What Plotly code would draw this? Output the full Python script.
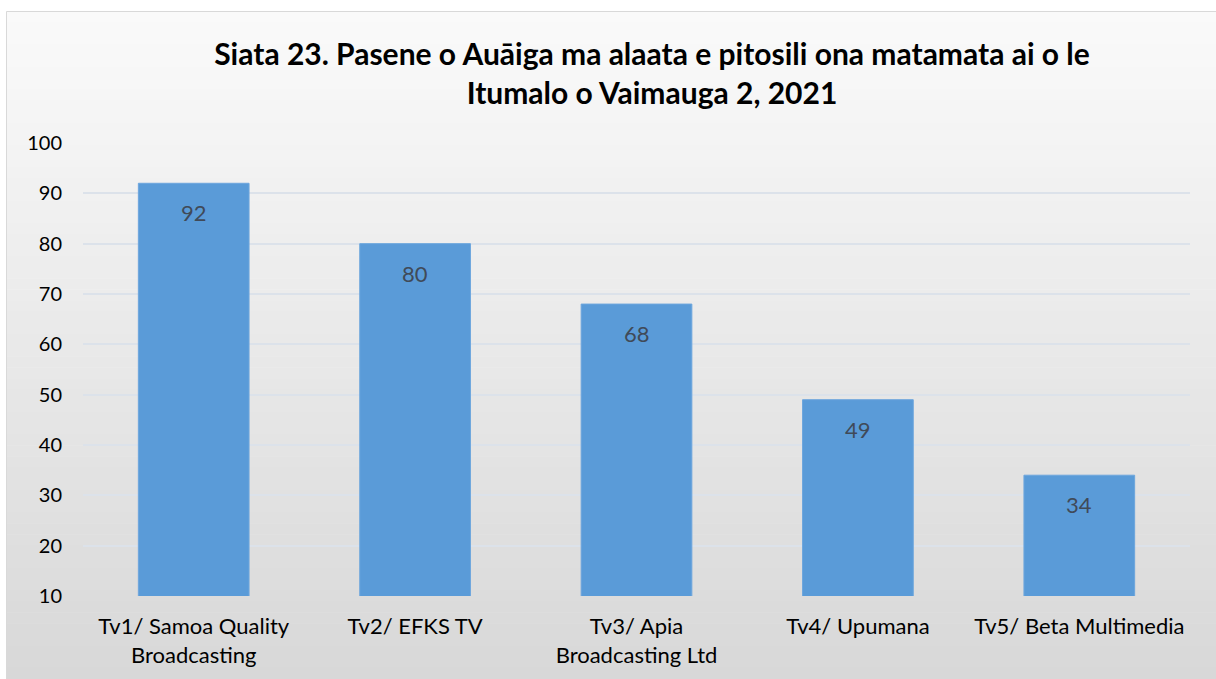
import plotly.graph_objects as go

# data
categories = [
    "Tv1/ Samoa Quality<br>Broadcasting",
    "Tv2/ EFKS TV",
    "Tv3/ Apia<br>Broadcasting Ltd",
    "Tv4/ Upumana",
    "Tv5/ Beta Multimedia",
]
values = [92, 80, 68, 49, 34]
y_ticks = [10, 20, 30, 40, 50, 60, 70, 80, 90, 100]

TITLE = "Siata 23. Pasene o Auāiga ma alaata e pitosili ona matamata ai o le<br>Itumalo o Vaimauga 2, 2021"
FONT = "Lato"

W, H = 1216, 679
L, R, T, B = 83, 26, 143, 83
pw, ph = W - L - R, H - T - B


def px_x(x):
    return (x - L) / pw


def px_y(y):
    return (H - B - y) / ph


# gradient background of the chart area (stripes)
shapes = []
n = 60
top, bot = 11, H
for i in range(n):
    y0 = top + (bot - top) * i / n
    y1 = top + (bot - top) * (i + 1) / n
    t = i / (n - 1)
    c = round(250 - (250 - 216) * t)
    shapes.append(dict(
        type="rect", xref="paper", yref="paper",
        x0=px_x(6), x1=px_x(W + 2), y0=px_y(y1 + 0.5), y1=px_y(y0),
        fillcolor=f"rgb({c},{c},{c})", line_width=0, layer="below",
    ))
shapes.append(dict(
    type="rect", xref="paper", yref="paper",
    x0=px_x(6.5), x1=px_x(W + 2), y0=px_y(H + 2), y1=px_y(11.5),
    line=dict(color="#D9D9D9", width=1), fillcolor="rgba(0,0,0,0)", layer="below",
))

fig = go.Figure()
fig.add_trace(
    go.Bar(
        x=categories,
        y=values,
        marker=dict(color="#5A9BD8", line=dict(color="#6DA6DD", width=1)),
        hoverinfo="skip",
    )
)

annotations = [
    dict(x=c, y=v, xref="x", yref="y", text=str(v), showarrow=False,
         yanchor="top", yshift=-14, font=dict(family=FONT, size=22, color="#404A58"))
    for c, v in zip(categories, values)
]

fig.update_layout(
    width=W,
    height=H,
    margin=dict(l=L, r=R, t=T, b=B),
    paper_bgcolor="white",
    plot_bgcolor="rgba(0,0,0,0)",
    font=dict(family=FONT, size=20, color="#000000"),
    title=dict(
        text=TITLE,
        font=dict(family=FONT, size=30, color="#000000", weight="bold"),
        x=652 / W, xref="container", xanchor="center",
        y=1 - 65 / H, yref="container", yanchor="middle",
    ),
    bargap=0.5,
    showlegend=False,
    shapes=shapes,
    annotations=annotations,
    xaxis=dict(
        showgrid=False, showline=False, zeroline=False,
        ticks="", ticklabelstandoff=15,
        tickfont=dict(family=FONT, size=22, color="#000000"),
    ),
    yaxis=dict(
        range=[10, 100], tickvals=y_ticks, showgrid=True,
        gridcolor="#DCE2EA", gridwidth=2, zeroline=False, showline=False,
        ticks="", ticklabelstandoff=20,
        tickfont=dict(family=FONT, size=20, color="#000000"),
    ),
)

fig.write_html(
    "out.html",
    config={"displayModeBar": False},
    post_script="document.body.style.margin='0';",
)
